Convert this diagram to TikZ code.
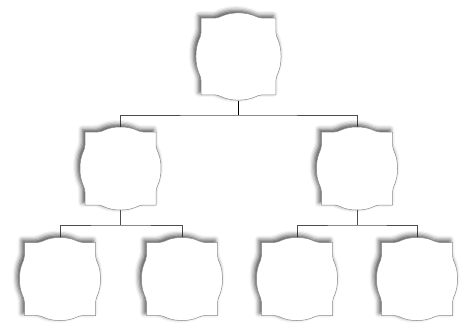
\documentclass[tikz,border=0pt]{standalone}
\usetikzlibrary{shadows.blur}
\tikzset{
  box/.style = {minimum width = 81pt, minimum height = 83pt, inner sep = 0pt},
  link/.style = {draw = black!70, line width = 0.6pt},
  plaque/.style = {draw = black!45, line width = 0.5pt, fill = white,
    blur shadow = {shadow xshift = -2.5pt, shadow yshift = 2.5pt,
      shadow blur radius = 4.5pt, shadow opacity = 70}}
}
% bulged frame round a named node
\newcommand{\plaque}[2][1]{
\begin{scope}[shift = {(#2.center)}, scale = #1]
\def\w{35.5} \def\h{36.5} \def\b{5}
\path [plaque] (-\w,-\h) -- ({-0.64*\w},-\h)
  .. controls ({-0.48*\w},-\h) and ({-0.4*\w},{-\h-\b}) .. (0,{-\h-\b})
  .. controls ({0.4*\w},{-\h-\b}) and ({0.48*\w},-\h) .. ({0.64*\w},-\h)
  -- (\w,-\h) -- (\w,{-0.64*\h})
  .. controls (\w,{-0.48*\h}) and ({\w+\b},{-0.4*\h}) .. ({\w+\b},0)
  .. controls ({\w+\b},{0.4*\h}) and (\w,{0.48*\h}) .. (\w,{0.64*\h})
  -- (\w,\h) -- ({0.64*\w},\h)
  .. controls ({0.48*\w},\h) and ({0.4*\w},{\h+\b}) .. (0,{\h+\b})
  .. controls ({-0.4*\w},{\h+\b}) and ({-0.48*\w},\h) .. ({-0.64*\w},\h)
  -- (-\w,\h) -- (-\w,{0.64*\h})
  .. controls (-\w,{0.48*\h}) and ({-\w-\b},{0.4*\h}) .. ({-\w-\b},0)
  .. controls ({-\w-\b},{-0.4*\h}) and (-\w,{-0.48*\h}) .. (-\w,{-0.64*\h})
  -- cycle;
\end{scope}
}
\begin{document}
\begin{tikzpicture}[x = 1pt, y = -1pt]
\useasboundingbox (0,0) rectangle (468,327);
\node [box, minimum width = 86pt, minimum height = 88pt] (top) at (238.5,56.5) {};
\node [box] (midL) at (120.5,168.5) {};
\node [box] (midR) at (357,168.5) {};
\node [box] (lowA) at (60,279) {};
\node [box] (lowB) at (182,279) {};
\node [box] (lowC) at (297,279) {};
\node [box] (lowD) at (417,279) {};
\coordinate (jTop) at (238.5,115);
\coordinate (jL) at (120.5,225);
\coordinate (jR) at (357,225);
\draw [link] (midL.north) |- (jTop) -| (midR.north);
\draw [link, line width = 1pt, black] (top.south) -- (jTop);
\draw [link] (midL.south) -- (jL);
\draw [link] (midR.south) -- (jR);
\draw [link] (lowA.north) |- (jL) -| (lowB.north);
\draw [link] (lowC.north) |- (jR) -| (lowD.north);
\plaque[1.05]{top}
\foreach \n in {midL,midR,lowA,lowB,lowC,lowD}{
\plaque{\n}
}
\end{tikzpicture}
\end{document}
